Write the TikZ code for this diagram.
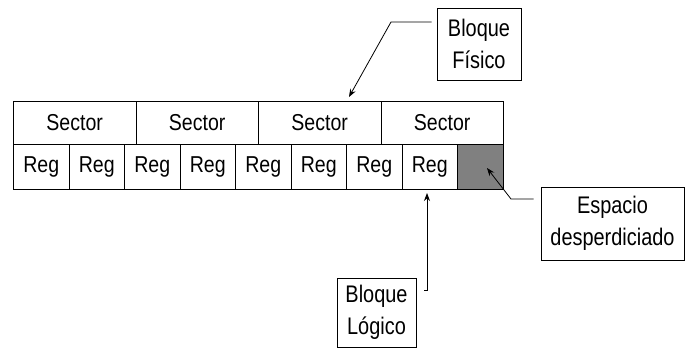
\documentclass[tikz,border=0pt]{standalone}
\usepackage{fontspec}
\setmainfont{Liberation Sans}
\newfontfamily\cellsans{Liberation Sans}[FakeStretch=0.85]
\newfontfamily\labelsans{Liberation Sans}[FakeStretch=0.83]
\usetikzlibrary{arrows.meta}
\definecolor{wastegray}{HTML}{808080}
\tikzset{
  cell/.style={draw=black, line width=0.9pt, inner sep=0pt, anchor=north west,
    font=\cellsans\fontsize{23}{27}\selectfont},
  label box/.style={draw=black, line width=0.9pt, inner sep=0pt, align=center,
    font=\labelsans\fontsize{24}{31.5}\selectfont},
  conn/.style={draw=black, line width=0.8pt, -{Stealth[length=8pt,width=6pt]}}
}
\begin{document}
\begin{tikzpicture}[x=1pt,y=-1pt]
\useasboundingbox (0,0) rectangle (686,349);
% sectors
\foreach \i in {1,...,4}{
  \pgfmathsetmacro{\xx}{13+(\i-1)*122.5}
  \node[cell, minimum width=122.5pt, minimum height=43pt] (s\i) at (\xx,101) {Sector};
}
% registers
\foreach \i in {1,...,8}{
  \pgfmathsetmacro{\xx}{13+(\i-1)*55.5}
  \node[cell, minimum width=55.5pt, minimum height=45pt] (r\i) at (\xx,144) {Reg};
}
\node[cell, fill=wastegray, minimum width=46pt, minimum height=45pt] (w) at (457,144) {};
% label boxes
\node[label box, minimum width=84pt, minimum height=72pt] (fis) at (479,44) {Bloque\\Físico};
\node[label box, minimum width=143pt, minimum height=73pt] (esp) at (612.5,223.5) {Espacio\\desperdiciado};
\node[label box, minimum width=79pt, minimum height=69pt] (log) at (376.5,312.5) {Bloque\\Lógico};
% connectors
\coordinate (fisend) at ([xshift=-5pt]fis.west |- 0,22);
\coordinate (fistip) at (349,97);
\draw[conn] (fisend) -- (391,22) -- (fistip);
\coordinate (espend) at ([xshift=-7pt]esp.west |- 0,199);
\coordinate (esptip) at (487,168);
\draw[conn] (espend) -- (511,199) -- (esptip);
\coordinate (logend) at ([xshift=8pt]log.north east |- 0,290);
\coordinate (logtip) at (427,193);
\draw[conn] (logend) -- (427,290) -- (logtip);
\end{tikzpicture}
\end{document}
